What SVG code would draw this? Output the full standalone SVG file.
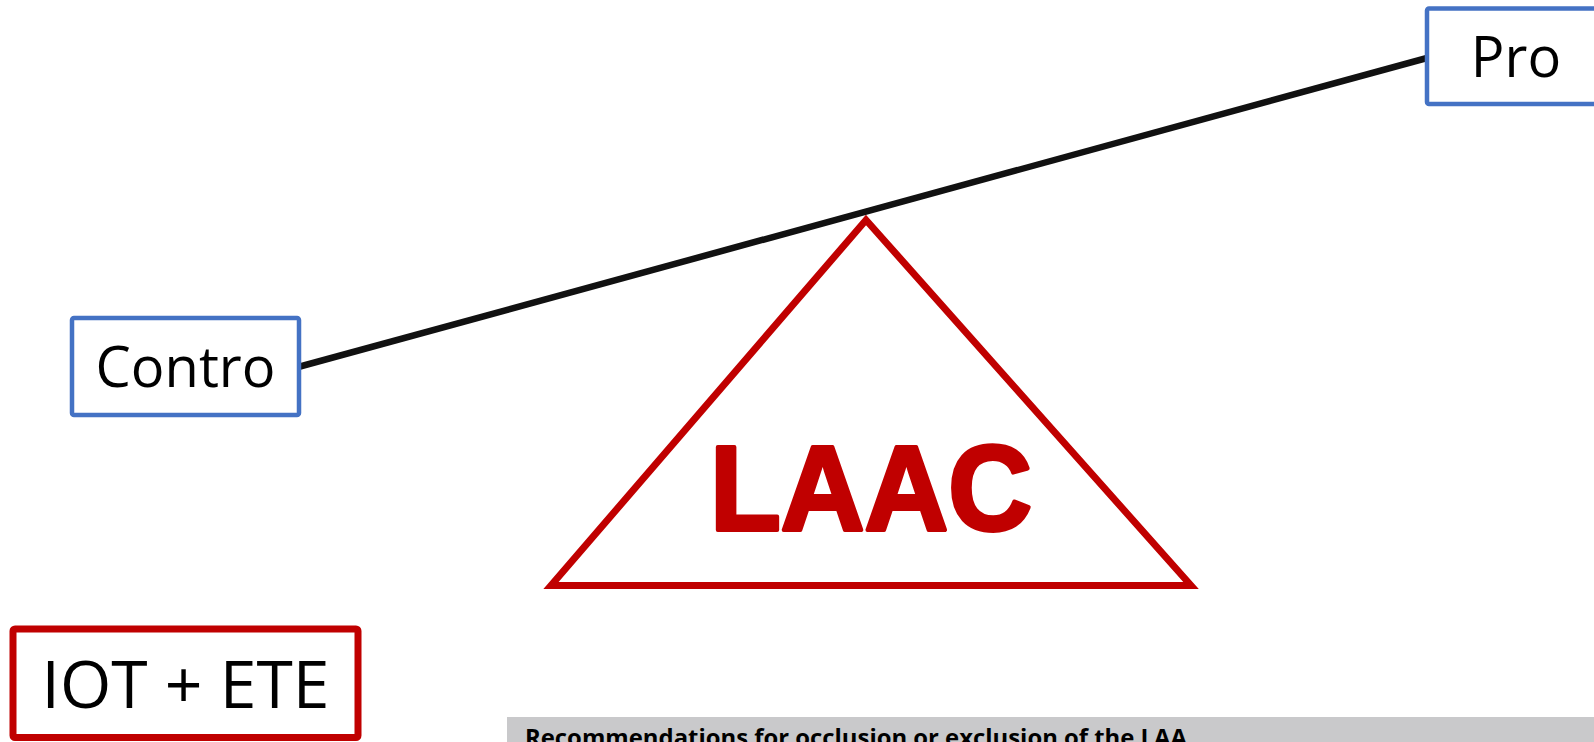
<svg xmlns="http://www.w3.org/2000/svg" width="1594" height="742" viewBox="0 0 1594 742">
<style>
.box{fill:#fff;stroke:#4472C4;stroke-width:4.5}
.redbox{fill:#fff;stroke:#C00000;stroke-width:7}
.lbl{font-family:"Open Sans","Noto Sans",sans-serif;fill:#000;text-anchor:middle}
.laac{font-family:"Liberation Sans",Arial,sans-serif;font-weight:bold;fill:#C00000;stroke:#C00000;stroke-width:4;stroke-linejoin:round}
.beam{stroke:#111;stroke-width:6.5;fill:none}
</style>
<rect width="1594" height="742" fill="#fff"/>
<g id="fulcrum">
<polygon points="866,220 1191,585.5 551,585.5" fill="none" stroke="#C00000" stroke-width="7" stroke-linejoin="miter"/>
<text class="laac" x="710" y="530" font-size="120" textLength="322" lengthAdjust="spacingAndGlyphs">LAAC</text>
</g>
<g id="connectors">
<line class="beam" x1="300" y1="366.5" x2="1427" y2="58"/>
</g>
<g id="contro">
<rect class="box" x="72" y="318" width="227" height="97" rx="2"/>
<text class="lbl" x="185.5" y="387" font-size="56">Contro</text>
</g>
<g id="pro">
<rect class="box" x="1427" y="8.5" width="180" height="95.5" rx="2"/>
<text class="lbl" x="1516" y="77" font-size="56">Pro</text>
</g>
<g id="iot-ete">
<rect class="redbox" x="13" y="629" width="345" height="108.5" rx="2"/>
<text class="lbl" x="185.5" y="708" font-size="66">IOT + ETE</text>
</g>
<g id="recommendations">
<rect x="507" y="717" width="1090" height="30" fill="#C9C9CB"/>
<text x="525" y="745.5" font-family="'Open Sans','Noto Sans',sans-serif" font-weight="bold" font-size="24" fill="#000" textLength="662" lengthAdjust="spacingAndGlyphs">Recommendations for occlusion or exclusion of the LAA</text>
</g>
</svg>
